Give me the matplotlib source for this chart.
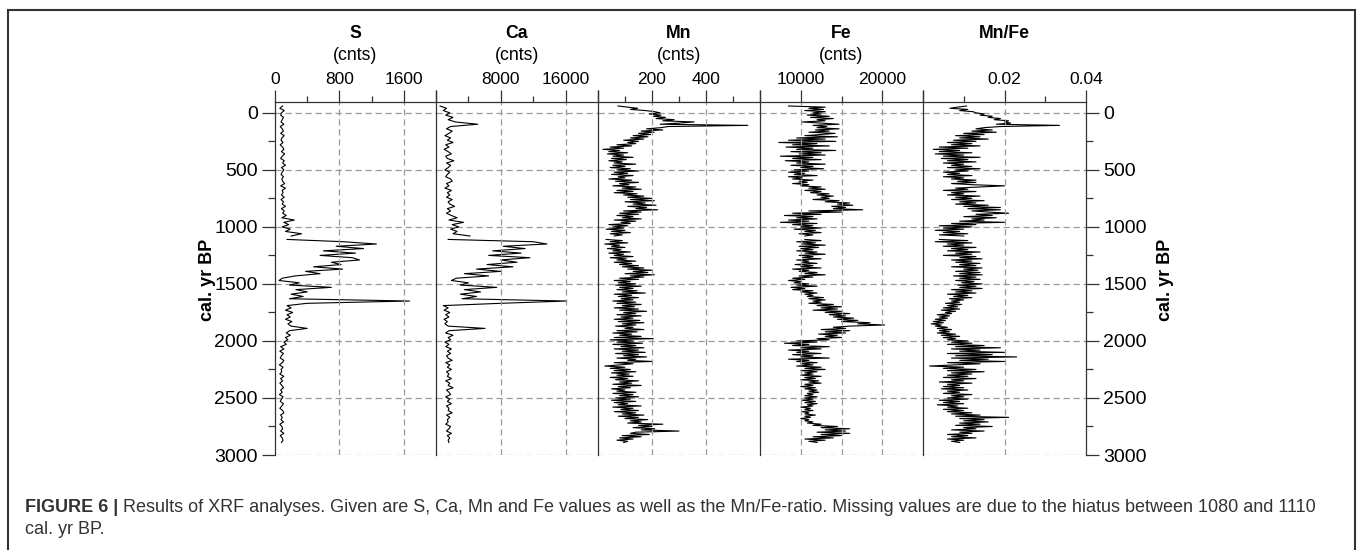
import numpy as np
import matplotlib.pyplot as plt
from matplotlib.patches import Rectangle

plt.rcParams['font.family'] = ['Liberation Sans', 'DejaVu Sans']

# sample ages above and below the hiatus (1080-1110 cal. yr BP)
age_top = np.arange(-60, 1081, 20)
age_bottom = np.arange(1110, 2891, 20)
age_top_fine = np.arange(-60, 1081, 10)
age_bottom_fine = np.arange(1110, 2891, 10)

s_top = [95, 60, 115, 80, 70, 105, 90, 75, 110, 65,
         90, 105, 70, 115, 85, 75, 100, 65, 95, 110,
         80, 120, 90, 70, 115, 95, 130, 80, 110, 90,
         75, 105, 85, 95, 120, 70, 130, 90, 100, 80,
         115, 75, 105, 90, 130, 80, 115, 95, 140, 85,
         240, 110, 170, 90, 190, 130, 330, 200]
s_bottom = [150, 850, 1260, 760, 1100, 600, 1000, 560, 960, 1050,
            700, 820, 480, 840, 380, 560, 250, 90, 50, 300,
            180, 700, 260, 400, 200, 350, 180, 1670, 400, 150,
            200, 130, 220, 150, 190, 130, 210, 160, 200, 400,
            180, 140, 190, 130, 160, 110, 140, 70, 110, 60,
            105, 80, 65, 110, 90, 55, 100, 75, 85, 60,
            110, 70, 95, 60, 85, 105, 70, 90, 55, 100,
            80, 65, 105, 85, 60, 95, 110, 70, 90, 75,
            105, 60, 85, 95, 70, 110, 65, 90, 100, 80]

ca_top = [500, 1300, 900, 1700, 1200, 2100, 1500, 2400, 5150, 1800,
          1300, 2000, 1600, 1100, 1800, 1400, 2100, 1200, 1600, 1000,
          1500, 1900, 1200, 1400, 2200, 1300, 1800, 1500, 1100, 1700,
          1400, 1200, 1800, 2000, 1300, 1600, 1100, 1900, 1400, 1700,
          1300, 2000, 1500, 1700, 2300, 1400, 1800, 1300, 1900, 2600,
          1600, 3400, 2000, 2800, 1800, 2600, 2100, 4200]
ca_bottom = [1500, 12000, 13700, 8300, 11000, 7000, 10500, 6500, 11600, 8000,
             10000, 6300, 9500, 5000, 8000, 3500, 6500, 2500, 1900, 4000,
             3000, 7500, 3500, 5500, 3000, 5000, 3200, 16150, 8000, 900,
             1500, 1000, 1700, 1200, 1600, 1000, 1400, 1100, 1500, 6050,
             1600, 1200, 2100, 1500, 1800, 1100, 1600, 1200, 1900, 1400,
             1800, 1300, 1500, 2000, 1200, 1700, 1400, 1900, 1300, 1600,
             1400, 1900, 1200, 1700, 1500, 2100, 1300, 1600, 1800, 1200,
             1700, 1400, 1900, 1300, 1600, 1500, 2000, 1300, 1700, 1400,
             1500, 1200, 1800, 1600, 1300, 1900, 1400, 1700, 1500, 1600]

mn_top = [74, 110, 147, 120, 175, 210, 230, 190, 233, 205,
          250, 215, 282, 240, 356, 300, 230, 555, 260, 233,
          180, 240, 160, 208, 150, 195, 130, 185, 120, 170,
          95, 150, 110, 140, 70, 125, 45, 95, 18, 80,
          40, 110, 35, 95, 55, 130, 50, 105, 40, 90,
          60, 140, 55, 100, 45, 120, 70, 150, 60, 110,
          50, 130, 75, 100, 40, 125, 65, 150, 80, 115,
          55, 140, 90, 160, 70, 130, 60, 145, 95, 170,
          110, 200, 120, 209, 100, 175, 130, 215, 110, 180,
          140, 221, 95, 160, 80, 150, 70, 130, 90, 160,
          60, 140, 85, 120, 40, 110, 55, 95, 30, 100,
          50, 120, 45, 90, 60]
mn_bottom = [30, 90, 45, 110, 25, 80, 50, 100, 35, 85,
             55, 120, 40, 95, 60, 130, 45, 105, 70, 140,
             60, 125, 80, 150, 90, 170, 110, 200, 130, 185,
             100, 209, 120, 170, 80, 150, 60, 120, 75, 140,
             65, 160, 80, 130, 70, 145, 90, 175, 60, 125,
             75, 150, 85, 130, 55, 140, 70, 160, 90, 135,
             60, 150, 80, 180, 95, 140, 70, 160, 85, 130,
             60, 155, 75, 170, 90, 140, 65, 130, 100, 170,
             70, 145, 55, 125, 80, 160, 60, 205, 45, 130,
             70, 165, 55, 140, 85, 170, 60, 150, 90, 175,
             65, 150, 95, 180, 70, 140, 110, 202, 60, 130,
             80, 25, 100, 45, 120, 60, 140, 50, 115, 70,
             130, 45, 110, 65, 150, 80, 125, 55, 160, 75,
             120, 50, 100, 70, 140, 55, 130, 80, 150, 65,
             120, 50, 140, 60, 110, 75, 160, 55, 130, 85,
             150, 60, 140, 90, 170, 75, 150, 100, 184, 120,
             160, 110, 240, 150, 200, 130, 210, 160, 300, 140,
             120, 190, 90, 160, 80, 130, 70, 110, 95]

fe_top = [8500, 13000, 11000, 12800, 10500, 13000, 11500, 12500, 10800, 13500,
          11200, 14000, 12000, 13000, 10200, 12500, 14700, 11500, 13200, 12000,
          14700, 11800, 13500, 11000, 14200, 12500, 10500, 14500, 9500, 13000,
          8500, 14300, 7300, 12000, 9000, 13500, 8200, 11500, 9500, 14300,
          8800, 12500, 9800, 13000, 7500, 11500, 9000, 12500, 8100, 11000,
          9500, 13000, 8800, 11500, 10000, 12800, 9200, 11000, 8500, 10500,
          9200, 12000, 8500, 10200, 9000, 11500, 9800, 10800, 9000, 11000,
          10000, 12500, 11000, 13000, 10500, 12500, 11200, 13500, 12000, 14000,
          12500, 13500, 11500, 14700, 13000, 16000, 14500, 16400, 13800, 15500,
          14000, 17600, 11000, 15000, 9000, 12500, 8000, 11500, 9500, 12000,
          8500, 11000, 7500, 12000, 9000, 11500, 10000, 12500, 9200, 11800,
          10500, 12500, 9800, 11500, 10500]
fe_bottom = [10500, 12500, 9500, 11800, 10200, 13000, 9800, 12200, 10000, 11500,
             9500, 12000, 10500, 13000, 9800, 11500, 10200, 12500, 9500, 11000,
             10200, 12000, 9300, 11500, 10000, 12500, 9000, 11000, 9800, 12000,
             10500, 13000, 9800, 11500, 9000, 10500, 8500, 10000, 9200, 11000,
             9500, 12000, 8800, 10500, 9000, 11500, 10000, 12000, 10500, 11500,
             10800, 12800, 11000, 13000, 11500, 12500, 11000, 14000, 12000, 15000,
             12500, 14500, 11500, 15000, 13000, 16000, 13500, 15500, 14000, 16500,
             14500, 17000, 15000, 18500, 17000, 20300, 16000, 14000, 15500, 12500,
             16000, 13000, 15500, 12200, 14500, 13000, 15000, 12000, 13500, 9500,
             12000, 8000, 11000, 9000, 13500, 10000, 12500, 8500, 11000, 9500,
             12500, 9000, 11500, 10000, 13500, 8500, 11000, 9500, 12000, 10000,
             11500, 9500, 12500, 10500, 13000, 10000, 12000, 10500, 11500, 10000,
             12500, 10500, 11800, 10000, 12200, 11000, 12500, 10500, 11500, 10000,
             11800, 10500, 12000, 11000, 12200, 10800, 11500, 10500, 12000, 10500,
             11500, 10200, 11800, 10500, 12000, 10800, 11500, 10000, 11200, 10500,
             11500, 10200, 11000, 10500, 11800, 10500, 11200, 10000, 11000, 10500,
             11500, 10800, 12500, 11500, 14500, 12500, 16000, 13000, 15500, 12000,
             16000, 12500, 15000, 11500, 14000, 10500, 13000, 11000, 12000]

mnfe_top = [0.0107, 0.0085, 0.0066, 0.0110, 0.0090, 0.0123, 0.0130, 0.0150, 0.0140, 0.0170,
            0.0160, 0.0190, 0.0175, 0.0210, 0.0200, 0.0215, 0.0180, 0.0335, 0.0190, 0.0150,
            0.0130, 0.0170, 0.0120, 0.0180, 0.0100, 0.0150, 0.0080, 0.0140, 0.0090, 0.0160,
            0.0075, 0.0130, 0.0060, 0.0120, 0.0070, 0.0140, 0.0040, 0.0110, 0.0025, 0.0090,
            0.0040, 0.0120, 0.0030, 0.0100, 0.0050, 0.0140, 0.0045, 0.0110, 0.0060, 0.0130,
            0.0050, 0.0100, 0.0070, 0.0120, 0.0060, 0.0140, 0.0080, 0.0110, 0.0050, 0.0090,
            0.0060, 0.0120, 0.0050, 0.0100, 0.0070, 0.0130, 0.0085, 0.0130, 0.0070, 0.0120,
            0.0200, 0.0140, 0.0080, 0.0110, 0.0050, 0.0130, 0.0070, 0.0100, 0.0060, 0.0140,
            0.0080, 0.0120, 0.0070, 0.0150, 0.0090, 0.0130, 0.0080, 0.0160, 0.0100, 0.0190,
            0.0110, 0.0190, 0.0120, 0.0160, 0.0210, 0.0130, 0.0170, 0.0100, 0.0180, 0.0120,
            0.0150, 0.0090, 0.0200, 0.0070, 0.0130, 0.0040, 0.0120, 0.0050, 0.0100, 0.0030,
            0.0090, 0.0050, 0.0110, 0.0040, 0.0100]
mnfe_bottom = [0.0040, 0.0110, 0.0030, 0.0120, 0.0060, 0.0100, 0.0050, 0.0130, 0.0070, 0.0110,
               0.0060, 0.0140, 0.0080, 0.0120, 0.0050, 0.0130, 0.0090, 0.0145, 0.0070, 0.0120,
               0.0080, 0.0140, 0.0090, 0.0130, 0.0070, 0.0145, 0.0100, 0.0135, 0.0080, 0.0140,
               0.0090, 0.0145, 0.0075, 0.0130, 0.0090, 0.0140, 0.0080, 0.0125, 0.0095, 0.0145,
               0.0085, 0.0130, 0.0090, 0.0145, 0.0070, 0.0120, 0.0080, 0.0130, 0.0060, 0.0110,
               0.0075, 0.0120, 0.0065, 0.0100, 0.0070, 0.0090, 0.0055, 0.0095, 0.0060, 0.0085,
               0.0050, 0.0090, 0.0045, 0.0080, 0.0055, 0.0070, 0.0035, 0.0065, 0.0040, 0.0060,
               0.0030, 0.0055, 0.0025, 0.0050, 0.0020, 0.0045, 0.0030, 0.0060, 0.0035, 0.0070,
               0.0040, 0.0065, 0.0035, 0.0080, 0.0045, 0.0090, 0.0050, 0.0080, 0.0060, 0.0110,
               0.0070, 0.0120, 0.0060, 0.0150, 0.0080, 0.0190, 0.0070, 0.0140, 0.0090, 0.0200,
               0.0060, 0.0170, 0.0080, 0.0230, 0.0070, 0.0160, 0.0090, 0.0200, 0.0060, 0.0140,
               0.0080, 0.0016, 0.0100, 0.0050, 0.0130, 0.0060, 0.0150, 0.0070, 0.0120, 0.0060,
               0.0110, 0.0050, 0.0130, 0.0070, 0.0100, 0.0040, 0.0120, 0.0060, 0.0090, 0.0050,
               0.0100, 0.0045, 0.0110, 0.0060, 0.0090, 0.0050, 0.0120, 0.0070, 0.0100, 0.0060,
               0.0110, 0.0040, 0.0090, 0.0050, 0.0100, 0.0035, 0.0085, 0.0060, 0.0110, 0.0050,
               0.0100, 0.0060, 0.0120, 0.0070, 0.0140, 0.0080, 0.0210, 0.0090, 0.0150, 0.0100,
               0.0160, 0.0090, 0.0140, 0.0080, 0.0170, 0.0100, 0.0130, 0.0070, 0.0150, 0.0090,
               0.0120, 0.0060, 0.0110, 0.0070, 0.0130, 0.0060, 0.0100, 0.0070, 0.0090]

titles = ['S', 'Ca', 'Mn', 'Fe', 'Mn/Fe']
units = ['(cnts)', '(cnts)', '(cnts)', '(cnts)', '']
xlims = [(0, 2000), (0, 20000), (0, 600), (5000, 25000), (0, 0.04)]
major_ticks = [[0, 800, 1600, 2000], [0, 8000, 16000, 20000], [0, 200, 400, 600],
               [5000, 10000, 20000, 25000], [0, 0.02, 0.04]]
major_labels = [['0', '800', '1600', ''], ['', '8000', '16000', ''], ['', '200', '400', ''],
                ['', '10000', '20000', ''], ['', '0.02', '0.04']]
minor_ticks = [[400, 1200], [4000, 12000], [100, 300, 500], [15000], [0.01, 0.03]]
vgrid = [[800, 1600], [8000, 16000], [200, 400], [10000, 15000, 20000], [0.02]]

series = [(age_top, s_top, age_bottom, s_bottom),
          (age_top, ca_top, age_bottom, ca_bottom),
          (age_top_fine, mn_top, age_bottom_fine, mn_bottom),
          (age_top_fine, fe_top, age_bottom_fine, fe_bottom),
          (age_top_fine, mnfe_top, age_bottom_fine, mnfe_bottom)]

W, H = 1358, 550
edges = [275, 436, 598, 760, 923, 1086]
y_top, y_bot = 102, 455
ink = '#333333'
grid_style = dict(color='#9a9a9a', lw=0.9, ls=(0, (5, 3)))

fig = plt.figure(figsize=(W / 100, H / 100), dpi=100)

for i in range(5):
    x0, x1 = edges[i], edges[i + 1]
    ax = fig.add_axes([x0 / W, 1 - y_bot / H, (x1 - x0) / W, (y_bot - y_top) / H])
    a_top, v_top, a_bot, v_bot = series[i]
    ax.plot(v_top, a_top, color='black', lw=0.8)
    ax.plot(v_bot, a_bot, color='black', lw=0.8)
    ax.set_xlim(*xlims[i])
    ax.set_ylim(3000, -95)

    ax.xaxis.tick_top()
    ax.set_xticks(major_ticks[i])
    ax.set_xticklabels(major_labels[i])
    ax.set_xticks(minor_ticks[i], minor=True)
    ax.tick_params(axis='x', which='major', length=9, width=0.9, pad=2,
                   labelsize=12.5, color=ink)
    ax.tick_params(axis='x', which='minor', length=4.5, width=0.9, color=ink)

    ax.set_yticks(np.arange(0, 3001, 500))
    ax.set_yticks(np.arange(250, 3000, 500), minor=True)
    ax.yaxis.grid(True, **grid_style)
    for g in vgrid[i]:
        ax.axvline(g, **grid_style)

    ax.spines['bottom'].set_visible(False)
    ax.spines['right'].set_visible(i == 4)
    for side in ('top', 'left', 'right'):
        ax.spines[side].set_color(ink)
        ax.spines[side].set_linewidth(0.9)

    if i == 0:
        ax.tick_params(axis='y', which='major', length=9.5, width=0.9, pad=3,
                       labelsize=14, color=ink)
        ax.tick_params(axis='y', which='minor', length=5, width=0.9, color=ink)
    elif i == 4:
        ax.tick_params(axis='y', which='both', left=False, labelleft=False,
                       right=True, labelright=True)
        ax.tick_params(axis='y', which='major', length=9, width=0.9, pad=3.5,
                       labelsize=14, color=ink)
        ax.tick_params(axis='y', which='minor', length=5, width=0.9, color=ink)
    else:
        ax.tick_params(axis='y', which='both', left=False, labelleft=False)

    xc = (x0 + x1) / 2 / W
    fig.text(xc, 1 - 33 / H, titles[i], ha='center', va='center',
             fontsize=12.7, fontweight='bold')
    if units[i]:
        fig.text(xc, 1 - 55 / H, units[i], ha='center', va='center', fontsize=12.7)

fig.text(207 / W, 1 - 280 / H, 'cal. yr BP', rotation=90, ha='center', va='center',
         fontsize=13, fontweight='bold')
fig.text(1166 / W, 1 - 280 / H, 'cal. yr BP', rotation=90, ha='center', va='center',
         fontsize=13, fontweight='bold')

# caption below the panels
head = fig.text(25 / W, 1 - 507 / H, 'FIGURE 6 |', fontsize=13, fontweight='bold',
                color=ink, va='center')
bb = head.get_window_extent(renderer=fig.canvas.get_renderer())
fig.text((bb.x1 + 5) / W, 1 - 507 / H,
         'Results of XRF analyses. Given are S, Ca, Mn and Fe values as well as the '
         'Mn/Fe-ratio. Missing values are due to the hiatus between 1080 and 1110',
         fontsize=13, color=ink, va='center')
fig.text(25 / W, 1 - 530 / H, 'cal. yr BP.', fontsize=13, color=ink, va='center')

fig.add_artist(Rectangle((8 / W, -0.1), (1355 - 8) / W, 1 - 10 / H + 0.1,
                         transform=fig.transFigure, fill=False,
                         edgecolor=ink, lw=1.5))

fig.savefig('out.png', dpi=100)
